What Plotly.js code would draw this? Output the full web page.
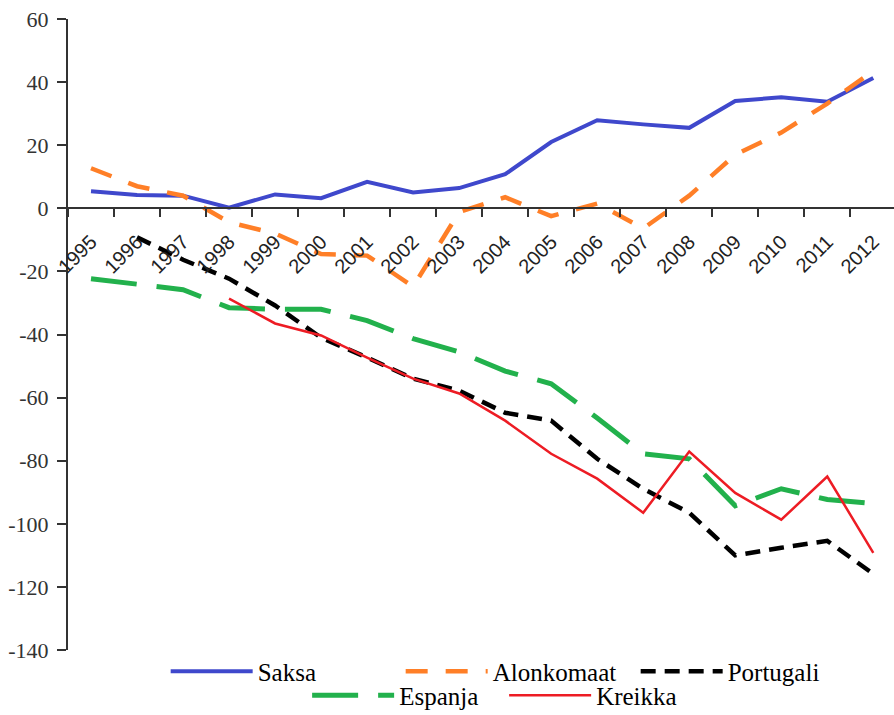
<!DOCTYPE html>
<html>
<head>
<meta charset="utf-8">
<script src="https://cdn.plot.ly/plotly-3.0.1.min.js"></script>
<style>
html,body{margin:0;padding:0;background:#fff;}
#chart{width:894px;height:715px;}
#chart .legendtext, #chart .ytick text { font-family: 'Liberation Serif', 'Times New Roman', serif !important; }
#chart .xtick text { font-family: 'Liberation Sans', Arial, sans-serif !important; }
</style>
</head>
<body>
<div id="chart"></div>
<script>
const years = ['1995','1996','1997','1998','1999','2000','2001','2002','2003','2004','2005','2006','2007','2008','2009','2010','2011','2012'];
const saksa = [5.4,4.2,4.0,0.2,4.4,3.2,8.4,5.0,6.4,10.8,21.0,27.9,26.6,25.5,34.0,35.2,33.8,41.3];
const alonkomaat = [12.7,7.0,4.0,-4.4,-8.0,-14.5,-15.0,-24.8,-1.2,3.5,-2.5,1.5,-6.4,4.0,17.0,24.0,33.2,43.5];
const portugali = [null,-9.2,-16.3,-22.3,-30.8,-41.0,-47.3,-54.0,-57.8,-64.8,-67.3,-79.4,-88.9,-96.5,-110.0,-107.6,-105.4,-115.9];
const espanja = [-22.3,-23.9,-25.8,-31.5,-32.0,-32.0,-35.6,-41.3,-45.5,-51.6,-55.6,-66.5,-77.8,-79.4,-94.3,-88.9,-92.3,-93.6];
const kreikka = [null,null,null,-28.6,-36.5,-40.3,-47.3,-54.0,-58.7,-67.3,-77.8,-85.7,-96.5,-77.1,-90.2,-98.7,-85.0,-109.2];
const yTickVals = [-140,-120,-100,-80,-60,-40,-20,0,20,40,60];
const yTickText = ['-140','-120','-100','-80','-60','-40','-20','0','20','40','60'];
const names = ['Saksa','Alonkomaat','Portugali','Espanja','Kreikka'];

const traces = [
  {x: years, y: saksa, name: names[0], type: 'scatter', mode: 'lines', legend: 'legend',
   line: {color: '#3F48CC', width: 4}},
  {x: years, y: alonkomaat, name: names[1], type: 'scatter', mode: 'lines', legend: 'legend',
   line: {color: '#FF7F27', width: 4.5, dash: '22px,18px'}},
  {x: years, y: portugali, name: names[2], type: 'scatter', mode: 'lines', legend: 'legend',
   line: {color: '#000000', width: 4.5, dash: '15px,9px'}},
  {x: years, y: espanja, name: names[3], type: 'scatter', mode: 'lines', legend: 'legend2',
   line: {color: '#22B14C', width: 5, dash: '46px,20px'}},
  {x: years, y: kreikka, name: names[4], type: 'scatter', mode: 'lines', legend: 'legend2',
   line: {color: '#ED1C24', width: 2.5}}
];

const serif = 'Liberation Serif';
const sans = 'Liberation Sans';
const legendFont = {family: serif, size: 25, color: '#000'};
const layout = {
  width: 894, height: 715,
  margin: {l: 68, r: 0, t: 19, b: 65, autoexpand: false},
  paper_bgcolor: '#ffffff', plot_bgcolor: '#ffffff',
  showlegend: true,
  font: {family: serif},
  xaxis: {
    type: 'category', range: [-0.5, 17.45],
    anchor: 'free', position: 0.7,
    showline: true, linecolor: '#333', linewidth: 2,
    ticks: 'outside', ticklen: 8, tickwidth: 2, tickcolor: '#333', tickson: 'boundaries',
    tickangle: -45, showgrid: false, zeroline: false, ticklabelstandoff: 13,
    tickfont: {family: sans, size: 20, color: '#222'}
  },
  yaxis: {
    range: [-140, 60], showline: true, linecolor: '#333', linewidth: 2,
    ticks: 'outside', ticklen: 9, tickwidth: 2, tickcolor: '#333',
    tickvals: yTickVals, ticktext: yTickText, ticklabelstandoff: 4,
    showgrid: false, zeroline: false,
    tickfont: {family: serif, size: 22, color: '#333'}
  },
  legend: {orientation: 'h', x: 0.545, xanchor: 'center', y: -0.034, yanchor: 'middle',
    font: legendFont, itemwidth: 82, entrywidth: 138, entrywidthmode: 'pixels',
    bgcolor: 'rgba(0,0,0,0)'},
  legend2: {orientation: 'h', x: 0.528, xanchor: 'center', y: -0.072, yanchor: 'middle',
    font: legendFont, itemwidth: 82, entrywidth: 100, entrywidthmode: 'pixels',
    bgcolor: 'rgba(0,0,0,0)'}
};

Plotly.newPlot('chart', traces, layout, {displayModeBar: false, staticPlot: true});
</script>
</body>
</html>
